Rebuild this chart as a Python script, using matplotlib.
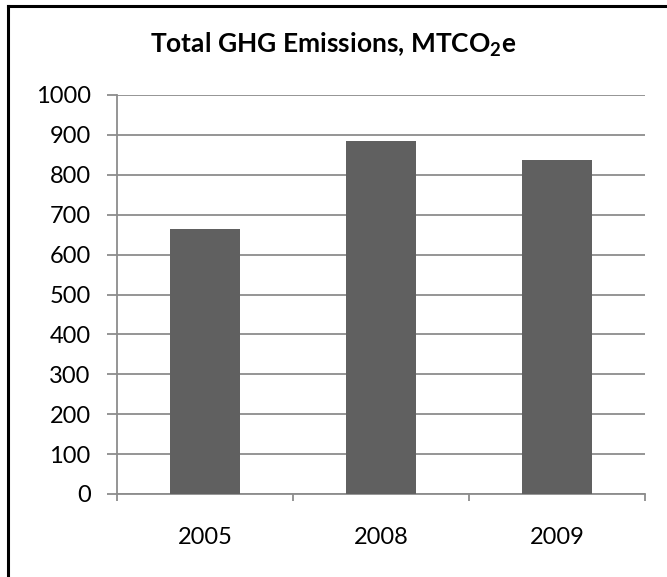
import matplotlib
matplotlib.use("Agg")
import matplotlib.pyplot as plt
from matplotlib.lines import Line2D

years = ["2005", "2008", "2009"]
emissions = [665, 885, 837]
y_ticks = [0, 100, 200, 300, 400, 500, 600, 700, 800, 900, 1000]

plt.rcParams["font.family"] = ["Lato", "DejaVu Sans"]
plt.rcParams["mathtext.fontset"] = "custom"
plt.rcParams["mathtext.bf"] = "Lato:bold"
plt.rcParams["mathtext.rm"] = "Lato"

fig = plt.figure(figsize=(6.67, 5.77), dpi=100)
ax = fig.add_axes([117 / 667, 1 - 494 / 577, (645 - 117) / 667, (494 - 95) / 577])

grid_color = "#8c8c8c"
x = list(range(len(years)))
ax.bar(x, emissions, width=0.4, color="#606060", zorder=3)

ax.set_xlim(-0.5, len(years) - 0.5)
ax.set_ylim(0, 1000)
ax.set_yticks(y_ticks)
ax.set_yticklabels([str(v) for v in y_ticks])
ax.yaxis.grid(True, color=grid_color, linewidth=1.3, zorder=0)

ax.set_xticks(x)
ax.set_xticklabels(years)
ax.set_xticks([i - 0.5 for i in range(len(years) + 1)], minor=True)
ax.tick_params(axis="x", which="major", length=0, pad=24, labelsize=17)
ax.tick_params(axis="x", which="minor", length=5, width=1.3, color=grid_color)
ax.tick_params(axis="y", length=7, width=1.3, color=grid_color, pad=12, labelsize=17)

for side in ("top", "right"):
    ax.spines[side].set_visible(False)
for side in ("left", "bottom"):
    ax.spines[side].set_color(grid_color)
    ax.spines[side].set_linewidth(1.3)

fig.text(0.5, 1 - 45 / 577, r"Total GHG Emissions, MTCO$_\mathbf{2}$e",
         ha="center", va="center", fontsize=19, fontweight="bold")

# chart frame edges
fig.add_artist(Line2D([8 / 667, 1.0], [1 - 6 / 577, 1 - 6 / 577],
                      transform=fig.transFigure, color="black", linewidth=2.2))
fig.add_artist(Line2D([8 / 667, 8 / 667], [0, 1 - 6 / 577],
                      transform=fig.transFigure, color="black", linewidth=2.2))

fig.savefig("out.png", dpi=100)
